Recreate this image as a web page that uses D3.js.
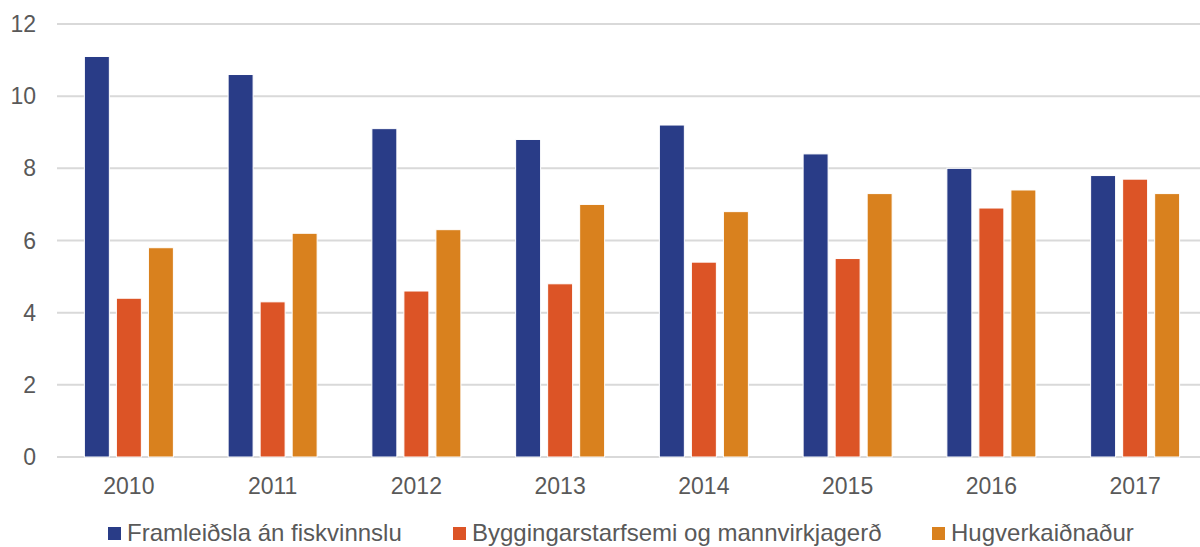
<!DOCTYPE html>
<html>
<head>
<meta charset="utf-8">
<script src="https://cdn.jsdelivr.net/npm/d3@7"></script>
<style>
  html, body { margin: 0; padding: 0; background: #fff; overflow: hidden; }
  svg { display: block; font-family: "Liberation Sans", Arial, sans-serif; }
</style>
</head>
<body>
<div id="chart"></div>
<script>
// data
const years = ['2010', '2011', '2012', '2013', '2014', '2015', '2016', '2017'];
const seriesNames = ['Framleiðsla án fiskvinnslu', 'Byggingarstarfsemi og mannvirkjagerð', 'Hugverkaiðnaður'];
const framleidsla = [11.1, 10.6, 9.1, 8.8, 9.2, 8.4, 8.0, 7.8];
const byggingar = [4.4, 4.3, 4.6, 4.8, 5.4, 5.5, 6.9, 7.7];
const hugverk = [5.8, 6.2, 6.3, 7.0, 6.8, 7.3, 7.4, 7.3];
const yTicks = [0, 2, 4, 6, 8, 10, 12];
const colors = ['#293c87', '#dc5426', '#d9811e'];

const width = 1200, height = 547;
const margin = {left: 57, top: 24, bottom: 90};

const svg = d3.select('#chart').append('svg')
  .attr('width', width)
  .attr('height', height);

// the plot runs a little past the right edge, as in the original
const x0 = d3.scaleBand().domain(years).range([margin.left, 1207]);
const x1 = d3.scaleBand().domain(d3.range(3))
  .range([0, x0.bandwidth()])
  .paddingInner(0.22)
  .paddingOuter(0.855);
const y = d3.scaleLinear().domain([0, 12]).range([height - margin.bottom, margin.top]);

// gridlines
svg.append('g')
  .selectAll('line')
  .data(yTicks)
  .join('line')
  .attr('x1', margin.left)
  .attr('x2', width)
  .attr('y1', d => y(d))
  .attr('y2', d => y(d))
  .attr('stroke', '#d9d9d9')
  .attr('stroke-width', 2);

// y labels
svg.append('g')
  .selectAll('text')
  .data(yTicks)
  .join('text')
  .attr('x', 36)
  .attr('y', d => y(d))
  .attr('dy', '0.35em')
  .attr('text-anchor', 'end')
  .attr('fill', '#595959')
  .style('font-size', '23px')
  .text(d => d);

// bars
const rows = years.map((yr, i) => ({year: yr, values: [framleidsla[i], byggingar[i], hugverk[i]]}));
const groups = svg.append('g')
  .selectAll('g')
  .data(rows)
  .join('g')
  .attr('transform', d => `translate(${x0(d.year)},0)`);

groups.selectAll('rect')
  .data(d => d.values.map((v, k) => ({k, v})))
  .join('rect')
  .attr('x', d => x1(d.k))
  .attr('width', x1.bandwidth())
  .attr('y', d => y(d.v))
  .attr('height', d => y(0) - y(d.v))
  .attr('fill', d => colors[d.k])
  .attr('stroke', '#fff')
  .attr('stroke-width', 1);

// x labels
svg.append('g')
  .selectAll('text')
  .data(years)
  .join('text')
  .attr('x', d => x0(d) + x0.bandwidth() / 2)
  .attr('y', 494)
  .attr('text-anchor', 'middle')
  .attr('fill', '#595959')
  .style('font-size', '23px')
  .text(d => d);

// legend (nudged up a few px so descenders stay inside the frame)
const legendX = [108, 453, 932];
const legend = svg.append('g')
  .selectAll('g')
  .data(seriesNames)
  .join('g')
  .attr('transform', (d, i) => `translate(${legendX[i]},0)`);

legend.append('rect')
  .attr('y', 527)
  .attr('width', 13)
  .attr('height', 13)
  .attr('fill', (d, i) => colors[i]);

legend.append('text')
  .attr('x', 19)
  .attr('y', 541)
  .attr('fill', '#595959')
  .style('font-size', '24px')
  .text(d => d);
</script>
</body>
</html>
